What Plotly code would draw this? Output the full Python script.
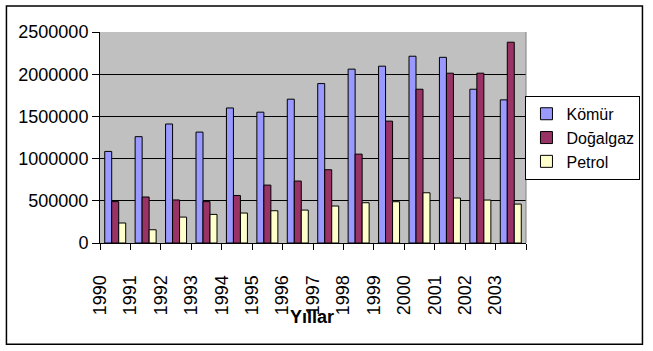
import plotly.graph_objects as go

years = [1990, 1991, 1992, 1993, 1994, 1995, 1996, 1997, 1998, 1999, 2000, 2001, 2002, 2003]
komur = [1085000, 1260000, 1410000, 1314000, 1600000, 1550000, 1704000, 1889000, 2060000, 2095000, 2213000, 2200000, 1822000, 1696000]
dogalgaz = [490000, 545000, 510000, 490000, 563000, 686000, 734000, 868000, 1053000, 1444000, 1822000, 2012000, 2012000, 2379000]
petrol = [237000, 157000, 307000, 339000, 355000, 382000, 390000, 438000, 477000, 489000, 595000, 533000, 509000, 461000]
series_names = ["Kömür", "Doğalgaz", "Petrol"]
colors = ["#9999FF", "#993366", "#FFFFCC"]

W, H = 653, 351
L, R, T, B = 100, 528, 32, 243.5


def px_x(x):
    return (x - L) / (R - L)


def px_y(y):
    return (B - y) / (B - T)


FONT = "Arial"
FS = 18

fig = go.Figure()
for name, vals, c in zip(series_names, [komur, dogalgaz, petrol], colors):
    fig.add_trace(go.Bar(
        x=years, y=vals, name=name,
        marker=dict(color=c, line=dict(color="black", width=1)),
    ))

tickvals = [y - 0.5 for y in years] + [years[-1] + 0.5]
ticktext = [str(y) for y in years] + [""]

fig.update_layout(
    width=W, height=H,
    margin=dict(l=L, r=W - R, t=T, b=H - B, pad=0),
    paper_bgcolor="white",
    plot_bgcolor="#C0C0C0",
    barmode="group",
    bargap=0.31,
    bargroupgap=0,
    font=dict(family=FONT, size=FS, color="black"),
    showlegend=True,
    legend=dict(
        x=px_x(643), y=px_y(96), xanchor="right", yanchor="top",
        bordercolor="black", borderwidth=1, bgcolor="white",
        font=dict(size=16), itemclick=False, itemwidth=30,
    ),
    xaxis=dict(
        range=[years[0] - 0.5, years[-1] + 0.5],
        tickmode="array", tickvals=tickvals, ticktext=ticktext,
        tickangle=-90, ticks="outside", ticklen=6, tickcolor="black",
        showline=True, linecolor="black", linewidth=1,
        showgrid=False, zeroline=False,
        ticklabelstandoff=18,
        tickfont=dict(size=FS),
    ),
    yaxis=dict(
        range=[0, 2500000], tickmode="linear", tick0=0, dtick=500000,
        tickformat="d",
        ticks="outside", ticklen=7, tickcolor="black",
        showline=True, linecolor="black", linewidth=1,
        showgrid=True, gridcolor="black", gridwidth=1, zeroline=False,
        tickfont=dict(size=FS),
    ),
    shapes=[
        dict(type="rect", xref="paper", yref="paper",
             x0=px_x(6), x1=px_x(645), y0=px_y(345), y1=px_y(6),
             line=dict(color="black", width=1.5), layer="below"),
        dict(type="line", xref="paper", yref="paper",
             x0=1, x1=1, y0=0, y1=1, line=dict(color="#808080", width=1)),
    ],
    annotations=[
        dict(text="<b>Yıllar</b>", xref="paper", yref="paper",
             x=px_x(313), y=px_y(318), xanchor="center", yanchor="middle",
             showarrow=False, font=dict(size=FS, family=FONT)),
    ],
)

fig.write_html("out.html")
